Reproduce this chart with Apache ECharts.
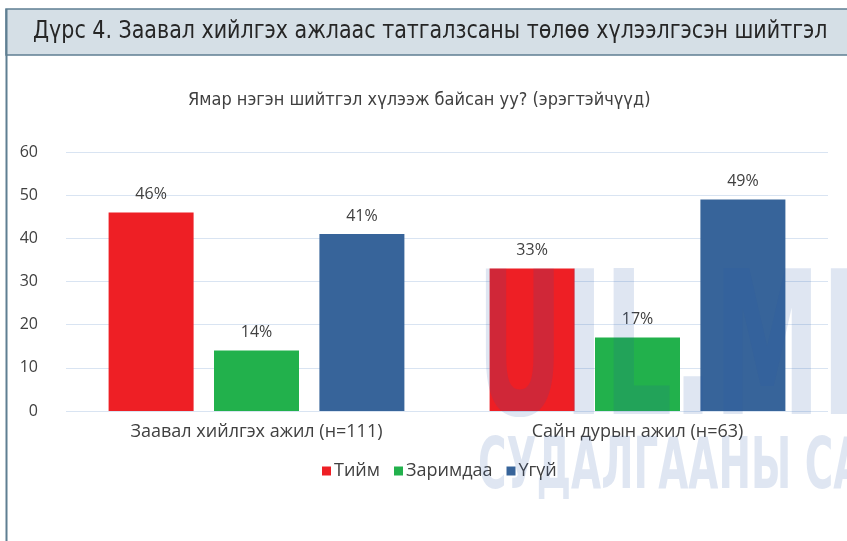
<!DOCTYPE html>
<html>
<head>
<meta charset="utf-8">
<script src="https://cdn.jsdelivr.net/npm/echarts@6/dist/echarts.min.js"></script>
<style>
  html, body { margin: 0; padding: 0; background: #ffffff; }
  #chart { width: 847px; height: 541px; }
</style>
</head>
<body>
<div id="chart"></div>
<script>
const titleText = 'Дүрс 4. Заавал хийлгэх ажлаас татгалзсаны төлөө хүлээлгэсэн шийтгэл'
const subtitleText = 'Ямар нэгэн шийтгэл хүлээж байсан уу? (эрэгтэйчүүд)'
const categories = ['Заавал хийлгэх ажил (н=111)', 'Сайн дурын ажил (н=63)']
const seriesNames = ['Тийм', 'Заримдаа', 'Үгүй']
const yesValues = [46, 33]
const sometimesValues = [14, 17]
const noValues = [41, 49]
const yTicks = [0, 10, 20, 30, 40, 50, 60]
const seriesColors = ['#ee1f25', '#22b14c', '#37649a']

const chart = echarts.init(document.getElementById('chart'))

const labelStyle = {
  show: true,
  position: 'top',
  distance: 10,
  formatter: '{c}%',
  color: '#404040',
  fontSize: 16,
  fontFamily: 'Open Sans'
}

chart.setOption({
  animation: false,
  grid: { left: 66, right: 19, top: 152, bottom: 130 },
  legend: {
    bottom: 56,
    left: 317,
    itemWidth: 9,
    itemHeight: 9,
    itemGap: 14,
    icon: 'rect',
    textStyle: { color: '#404040', fontSize: 18, fontFamily: 'Open Sans', padding: [0, 0, 0, -2] },
    data: seriesNames
  },
  xAxis: {
    type: 'category',
    data: categories,
    axisLine: { show: false },
    axisTick: { show: false },
    axisLabel: { color: '#404040', fontSize: 18, fontFamily: 'Open Sans', margin: 12 }
  },
  yAxis: {
    type: 'value',
    min: yTicks[0],
    max: yTicks[yTicks.length - 1],
    interval: yTicks[1] - yTicks[0],
    axisLine: { show: false },
    axisTick: { show: false },
    axisLabel: { color: '#404040', fontSize: 16, fontFamily: 'Open Sans', margin: 28, align: 'right' },
    splitLine: { lineStyle: { color: '#d9e4f2', width: 1 } }
  },
  series: [
    { name: seriesNames[0], type: 'bar', data: yesValues, barWidth: 85, barGap: '24%', itemStyle: { color: seriesColors[0] }, label: labelStyle },
    { name: seriesNames[1], type: 'bar', data: sometimesValues, barWidth: 85, barGap: '24%', itemStyle: { color: seriesColors[1] }, label: labelStyle },
    { name: seriesNames[2], type: 'bar', data: noValues, barWidth: 85, barGap: '24%', itemStyle: { color: seriesColors[2] }, label: labelStyle }
  ],
  graphic: [
    // рамка и шапка
    { type: 'rect', shape: { x: 6, y: 9, width: 900, height: 46 }, style: { fill: '#d5dfe6', stroke: '#5f7f92', lineWidth: 1.5 }, z: 0, silent: true },
    { type: 'line', shape: { x1: 6.5, y1: 9, x2: 6.5, y2: 541 }, style: { stroke: '#5f7f92', lineWidth: 2 }, z: 1, silent: true },
    {
      type: 'text', x: 33, y: 20, scaleX: 0.955, z: 2, silent: true,
      style: { text: titleText, fill: '#262626', fontSize: 24, fontFamily: 'DejaVu Sans Condensed' }
    },
    {
      type: 'text', x: 188, y: 91, z: 2, silent: true,
      style: { text: subtitleText, fill: '#404040', fontSize: 18, fontFamily: 'DejaVu Sans Condensed' }
    },
    // водяной знак
    {
      type: 'text', x: 476, y: 262, scaleX: 0.6, z: 100, silent: true,
      style: { text: 'UIL.MN', fill: 'rgba(40,90,170,0.15)', fontSize: 200, fontWeight: 'bold', fontFamily: 'DejaVu Sans Condensed' }
    },
    {
      type: 'text', x: 478, y: 433, scaleX: 0.6, z: 100, silent: true,
      style: { text: 'СУДАЛГААНЫ САН', fill: 'rgba(40,90,170,0.15)', fontSize: 72, fontWeight: 'bold', fontFamily: 'DejaVu Sans Condensed' }
    }
  ]
})
</script>
</body>
</html>
